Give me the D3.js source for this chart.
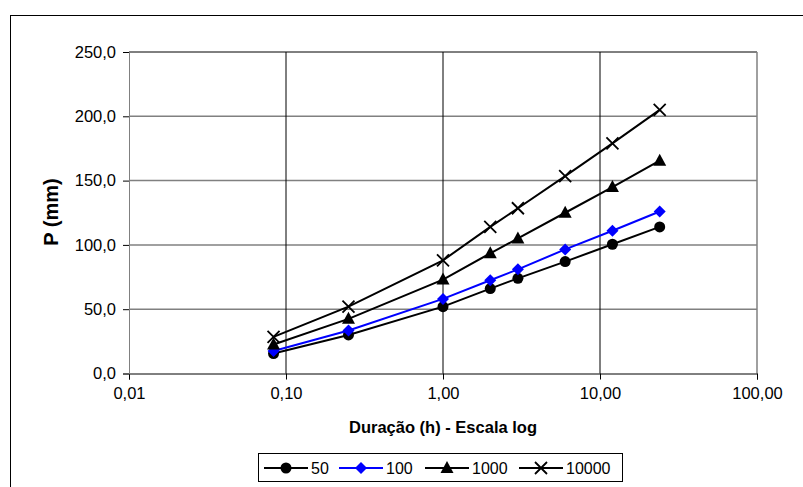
<!DOCTYPE html>
<html>
<head>
<meta charset="utf-8">
<script src="https://cdn.jsdelivr.net/npm/d3@7"></script>
<style>
  body { margin: 0; background: #fff; }
  svg { display: block; font-family: "Liberation Sans", Arial, sans-serif; }
</style>
</head>
<body>
<svg id="chart" width="803" height="487"></svg>
<script>
// durations in hours (5 min, 15 min, 1h, 2h, 3h, 6h, 12h, 24h)
var durations = [0.0833, 0.25, 1, 2, 3, 6, 12, 24];
var seriesNames = ["50", "100", "1000", "10000"];
var p50 = [15.5, 30, 52, 66, 74, 87, 100.5, 114];
var p100 = [17.5, 33.5, 58, 72.5, 81, 96.5, 111, 126];
var p1000 = [22.5, 42.5, 73, 93.5, 105, 125, 145, 165.5];
var p10000 = [28.5, 52, 88, 114, 128.5, 153.5, 179, 205];
var xTicks = [0.01, 0.1, 1, 10, 100];
var yTicks = [0, 50, 100, 150, 200, 250];

var series = [
  {name: seriesNames[0], values: p50, color: "#000", marker: "circle"},
  {name: seriesNames[1], values: p100, color: "#0000ff", marker: "diamond"},
  {name: seriesNames[2], values: p1000, color: "#000", marker: "triangle"},
  {name: seriesNames[3], values: p10000, color: "#000", marker: "cross"}
];

var svg = d3.select("#chart");
var pLeft = 129, pRight = 757, pTop = 52, pBottom = 373.5;

// outer chart frame (runs off the page on right/bottom)
svg.append("rect")
  .attr("x", 10.5).attr("y", 15.5)
  .attr("width", 900).attr("height", 600)
  .attr("fill", "none").attr("stroke", "#000");

var x = d3.scaleLog().domain([0.01, 100]).range([pLeft, pRight]);
var y = d3.scaleLinear().domain([0, 250]).range([pBottom, pTop]);

var fmtX = function(d){ return d3.format(".2f")(d).replace(".", ","); };
var fmtY = function(d){ return d3.format(".1f")(d).replace(".", ","); };

// horizontal gridlines
svg.append("g").selectAll("line")
  .data(yTicks.filter(function(d){ return d > 0 && d < 250; }))
  .enter().append("line")
  .attr("x1", pLeft).attr("x2", pRight)
  .attr("y1", function(d){ return y(d); })
  .attr("y2", function(d){ return y(d); })
  .attr("stroke", "#808080").attr("stroke-width", 1.5);

// vertical gridlines
svg.append("g").selectAll("line")
  .data(xTicks.slice(1, -1))
  .enter().append("line")
  .attr("x1", function(d){ return x(d); })
  .attr("x2", function(d){ return x(d); })
  .attr("y1", pTop).attr("y2", pBottom)
  .attr("stroke", "#000").attr("stroke-width", 1);

// plot edges
svg.append("line").attr("x1", pLeft).attr("x2", pRight).attr("y1", pTop).attr("y2", pTop)
  .attr("stroke", "#000");
svg.append("line").attr("x1", pRight).attr("x2", pRight).attr("y1", pTop).attr("y2", pBottom)
  .attr("stroke", "#808080").attr("stroke-width", 1.5);

// axes
var xAxis = d3.axisBottom(x).tickValues(xTicks).tickFormat(fmtX).tickSizeOuter(0).tickSize(6).tickPadding(8);
var gx = svg.append("g").attr("transform", "translate(0," + pBottom + ")").call(xAxis);
gx.select(".domain").attr("stroke", "#000");
gx.selectAll("text").attr("font-size", 16.5).attr("font-family", "Liberation Sans, Arial, sans-serif").attr("fill", "#000");

var yAxis = d3.axisLeft(y).tickValues(yTicks).tickFormat(fmtY).tickSizeOuter(0).tickSize(6).tickPadding(7);
var gy = svg.append("g").attr("transform", "translate(" + pLeft + ",0)").call(yAxis);
gy.select(".domain").attr("stroke", "#808080");
gy.selectAll("text").attr("font-size", 16.5).attr("font-family", "Liberation Sans, Arial, sans-serif").attr("fill", "#000");

// axis titles
svg.append("text")
  .attr("x", (pLeft + pRight) / 2).attr("y", 433)
  .attr("text-anchor", "middle")
  .attr("font-size", 16.5).attr("font-weight", "bold")
  .text("Duração (h) - Escala log");

svg.append("text")
  .attr("transform", "translate(58,212) rotate(-90)")
  .attr("text-anchor", "middle")
  .attr("font-size", 20).attr("font-weight", "bold")
  .text("P (mm)");

function drawMarker(g, type, color){
  if(type == "circle"){
    g.append("circle").attr("r", 5.5).attr("fill", color);
  }
  else if(type == "diamond"){
    g.append("path").attr("d", "M0,-6L6,0L0,6L-6,0Z").attr("fill", color);
  }
  else if(type == "triangle"){
    g.append("path").attr("d", "M0,-7L6.5,5L-6.5,5Z").attr("fill", color);
  }
  else {
    g.append("path").attr("d", "M-6,-6L6,6M-6,6L6,-6")
      .attr("stroke", color).attr("stroke-width", 1.8).attr("fill", "none");
  }
}

var line = d3.line()
  .x(function(d, i){ return x(durations[i]); })
  .y(function(d){ return y(d); });

series.forEach(function(s){
  var g = svg.append("g");
  g.append("path").attr("d", line(s.values))
    .attr("fill", "none").attr("stroke", s.color).attr("stroke-width", 2);
  s.values.forEach(function(v, i){
    var m = g.append("g").attr("transform", "translate(" + x(durations[i]) + "," + y(v) + ")");
    drawMarker(m, s.marker, s.color);
  });
});

// legend
var legend = svg.append("g");
legend.append("rect")
  .attr("x", 258.5).attr("y", 453.5).attr("width", 364).attr("height", 28)
  .attr("fill", "#fff").attr("stroke", "#000");
var legX = [264, 339, 425, 519];
series.forEach(function(s, i){
  var g = legend.append("g").attr("transform", "translate(" + legX[i] + ",468)");
  g.append("line").attr("x1", 0).attr("x2", 44).attr("stroke", s.color).attr("stroke-width", 2);
  var m = g.append("g").attr("transform", "translate(22,0)");
  drawMarker(m, s.marker, s.color);
  g.append("text").attr("x", 47).attr("y", 6)
    .attr("font-size", 16).text(s.name);
});
</script>
</body>
</html>
